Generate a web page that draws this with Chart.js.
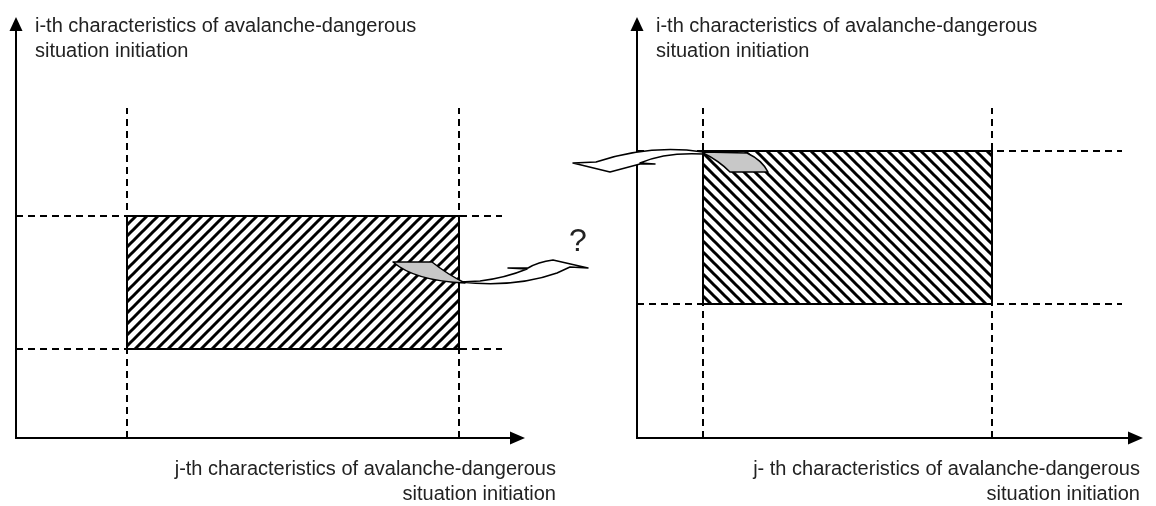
<!DOCTYPE html>
<html>
<head>
<meta charset="utf-8">
<script src="https://cdn.jsdelivr.net/npm/chart.js"></script>
<style>
  body { margin: 0; background: #fff; }
  #wrap { position: relative; width: 1156px; height: 506px; }
  #c { position: absolute; left: 0; top: 0; }
  .lbl { position: absolute; font-family: "Liberation Sans", Arial, sans-serif; font-size: 20px; line-height: 25px; color: #222; white-space: nowrap; }
  .r { text-align: right; }
  .q { font-size: 32px; line-height: 32px; }
</style>
</head>
<body>
<div id="wrap">
  <canvas id="c" width="1156" height="506"></canvas>
  <div class="lbl" style="left:35px;top:13px">i-th characteristics of avalanche-dangerous<br>situation initiation</div>
  <div class="lbl" style="left:656px;top:13px">i-th characteristics of avalanche-dangerous<br>situation initiation</div>
  <div class="lbl r" style="right:600px;top:456px">j-th characteristics of avalanche-dangerous<br>situation initiation</div>
  <div class="lbl r" style="right:16px;top:456px">j- th characteristics of avalanche-dangerous<br>situation initiation</div>
  <div class="lbl q" style="left:569px;top:224px">?</div>
</div>
<script>
// two panels share one x scale: left panel starts at 0, right one at 12.42
const panelOrigins = [0, 12.42];
const xAxisEnds = [10.18, 22.54];
const yAxisTop = 8.42;
const rectX = [[2.22, 8.86], [13.74, 19.52]];
const rectY = [[1.78, 4.44], [2.68, 5.74]];
const dashTop = 6.6;
const dashRight = [9.72, 22.12];
const hatchDir = [1, -1];

// curved transfer arrows (data units)
const leftArrowTail = [['M', 7.54, 3.52], ['L', 8.32, 3.52], ['Q', 8.62, 3.28, 8.98, 3.10], ['Q', 7.98, 3.14, 7.54, 3.52]];
const leftArrowBody = [['M', 8.88, 3.12], ['Q', 9.98, 3.00, 10.82, 3.30], ['L', 11.08, 3.42], ['L', 11.44, 3.40], ['L', 10.74, 3.56],
  ['Q', 10.44, 3.52, 10.24, 3.40], ['L', 9.84, 3.40], ['L', 10.22, 3.38], ['Q', 9.78, 3.20, 9.28, 3.14]];
const rightArrowTail = [['M', 13.74, 5.72], ['L', 14.62, 5.70], ['Q', 14.92, 5.56, 15.04, 5.32], ['L', 14.28, 5.32], ['Q', 14.04, 5.56, 13.74, 5.70]];
const rightArrowBody = [['M', 13.74, 5.72], ['Q', 12.68, 5.88, 11.60, 5.52], ['L', 11.14, 5.50], ['L', 11.88, 5.32], ['L', 12.48, 5.48],
  ['L', 12.78, 5.48], ['L', 12.48, 5.50], ['Q', 12.98, 5.72, 13.74, 5.68]];

const canvas = document.getElementById('c');
const ctx0 = canvas.getContext('2d');

function hatch(dir) {
  const s = 11;
  const t = document.createElement('canvas');
  t.width = t.height = s;
  const g = t.getContext('2d');
  g.fillStyle = '#fff';
  g.fillRect(0, 0, s, s);
  g.strokeStyle = '#000';
  g.lineWidth = 3;
  g.beginPath();
  if (dir > 0) {
    g.moveTo(-3, s + 3); g.lineTo(s + 3, -3);
    g.moveTo(-3, 3); g.lineTo(3, -3);
    g.moveTo(s - 3, s + 3); g.lineTo(s + 3, s - 3);
  } else {
    g.moveTo(-3, -3); g.lineTo(s + 3, s + 3);
    g.moveTo(-3, s - 3); g.lineTo(3, s + 3);
    g.moveTo(s - 3, -3); g.lineTo(s + 3, 3);
  }
  g.stroke();
  return ctx0.createPattern(t, 'repeat');
}

const datasets = [];
rectX.forEach((xs, i) => {
  const ys = rectY[i];
  datasets.push({
    data: [{ x: xs[0], y: ys[0] }, { x: xs[1], y: ys[0] }, { x: xs[1], y: ys[1] }, { x: xs[0], y: ys[1] }, { x: xs[0], y: ys[0] }],
    showLine: true, fill: 'shape', backgroundColor: hatch(hatchDir[i]),
    borderColor: '#000', borderWidth: 2, pointRadius: 0, tension: 0, clip: false, order: 0,
  });
  const dash = { showLine: true, fill: false, borderColor: '#000', borderWidth: 2, borderDash: [7, 5], pointRadius: 0, clip: false, order: 1 };
  xs.forEach((x) => datasets.push({ ...dash, data: [{ x, y: 0 }, { x, y: dashTop }] }));
  ys.forEach((y) => datasets.push({ ...dash, data: [{ x: panelOrigins[i], y }, { x: dashRight[i], y }] }));
});

function tracePath(ctx, sx, sy, segs) {
  ctx.beginPath();
  segs.forEach((s) => {
    if (s[0] === 'M') ctx.moveTo(sx(s[1]), sy(s[2]));
    else if (s[0] === 'L') ctx.lineTo(sx(s[1]), sy(s[2]));
    else ctx.quadraticCurveTo(sx(s[1]), sy(s[2]), sx(s[3]), sy(s[4]));
  });
  ctx.closePath();
}

const decor = {
  id: 'decor',
  afterDatasetsDraw(chart) {
    const { ctx, scales: { x, y } } = chart;
    const sx = (v) => x.getPixelForValue(v);
    const sy = (v) => y.getPixelForValue(v);
    ctx.save();
    ctx.strokeStyle = '#000';
    ctx.fillStyle = '#000';
    panelOrigins.forEach((ox, i) => {
      const x0 = sx(ox), y0 = sy(0), xe = sx(xAxisEnds[i]), ye = sy(yAxisTop);
      ctx.lineWidth = 2;
      ctx.beginPath();
      ctx.moveTo(x0, ye + 12); ctx.lineTo(x0, y0); ctx.lineTo(xe - 12, y0);
      ctx.stroke();
      ctx.beginPath();
      ctx.moveTo(x0, ye); ctx.lineTo(x0 - 6.5, ye + 14); ctx.lineTo(x0 + 6.5, ye + 14); ctx.closePath();
      ctx.fill();
      ctx.beginPath();
      ctx.moveTo(xe, y0); ctx.lineTo(xe - 15, y0 - 6.5); ctx.lineTo(xe - 15, y0 + 6.5); ctx.closePath();
      ctx.fill();
    });
    ctx.lineWidth = 1.5;
    ctx.lineJoin = 'round';
    [[leftArrowBody, '#fff'], [leftArrowTail, '#c8c8c8'], [rightArrowBody, '#fff'], [rightArrowTail, '#c8c8c8']].forEach(([segs, fill]) => {
      tracePath(ctx, sx, sy, segs);
      ctx.fillStyle = fill;
      ctx.fill();
      ctx.stroke();
    });
    ctx.restore();
  },
};

new Chart(canvas, {
  type: 'scatter',
  data: { datasets },
  options: {
    responsive: false,
    animation: false,
    layout: { padding: { left: 16, right: 13, top: 17, bottom: 68 } },
    scales: {
      x: { type: 'linear', min: 0, max: 22.54, display: false },
      y: { type: 'linear', min: 0, max: yAxisTop, display: false },
    },
    plugins: { legend: { display: false }, tooltip: { enabled: false } },
  },
  plugins: [decor],
});
</script>
</body>
</html>
